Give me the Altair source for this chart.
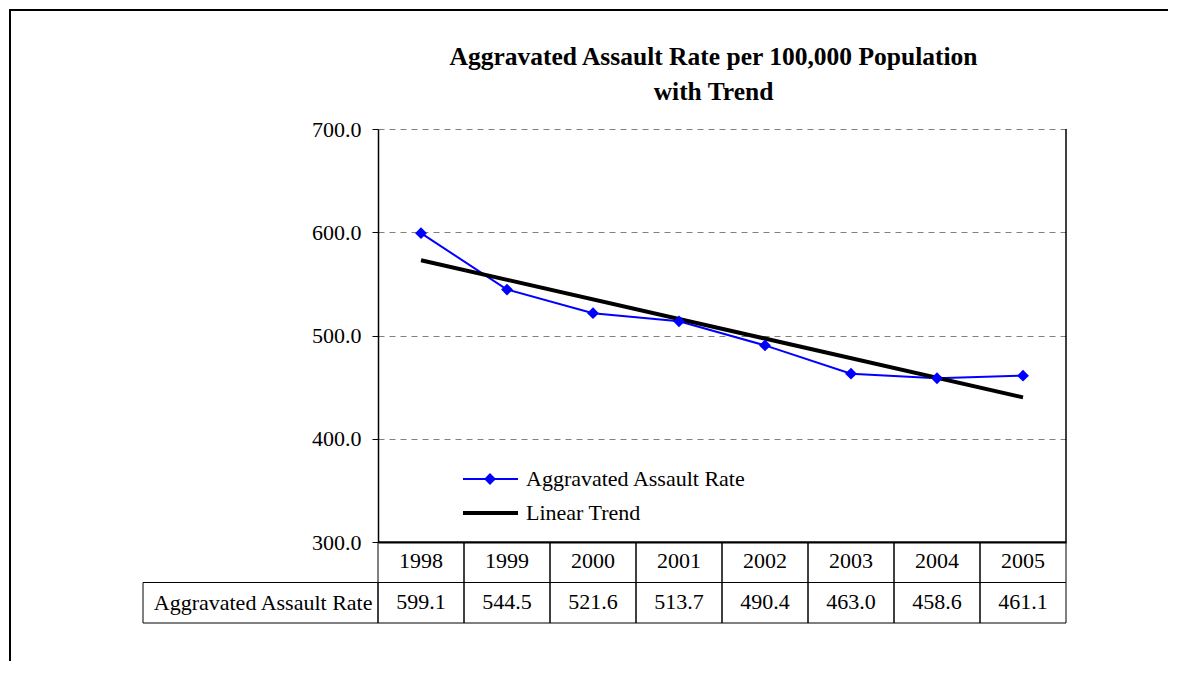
import altair as alt
import pandas as pd

years = [1998, 1999, 2000, 2001, 2002, 2003, 2004, 2005]
rates = [599.1, 544.5, 521.6, 513.7, 490.4, 463.0, 458.6, 461.1]
series_names = ["Aggravated Assault Rate", "Linear Trend"]
series_colors = ["#0000FF", "#000000"]
series_widths = [2, 4]
y_ticks = [300, 400, 500, 600, 700]
title_lines = ["Aggravated Assault Rate per 100,000 Population", "with Trend"]
row_label = "Aggravated Assault Rate"

FONT = "Liberation Serif"
FS = 22


def build():
    df = pd.DataFrame({"Year": years, "Rate": rates})

    xscale = alt.Scale(domain=[years[0] - 0.5, years[-1] + 0.5], nice=False, zero=False)
    yscale = alt.Scale(domain=[y_ticks[0], y_ticks[-1]], nice=False, zero=False)

    legend = alt.Legend(
        title=None,
        orient="none",
        legendX=83,
        legendY=337,
        padding=0,
        symbolSize=3025,
        symbolType="stroke",
        labelFont=FONT,
        labelFontSize=FS,
        labelColor="black",
        labelOffset=6,
        rowPadding=8,
        clipHeight=26,
        labelLimit=0,
    )
    color = alt.Color(
        "series:N",
        scale=alt.Scale(domain=series_names, range=series_colors),
        legend=legend,
    )
    swidth = alt.StrokeWidth(
        "series:N",
        scale=alt.Scale(domain=series_names, range=series_widths),
        legend=legend,
    )

    x_enc = alt.X(
        "Year:Q",
        scale=xscale,
        axis=alt.Axis(title=None, labels=False, ticks=False, grid=False,
                      domainColor="black", domainWidth=2, zindex=1),
    )
    y_enc = alt.Y(
        "Rate:Q",
        scale=yscale,
        axis=alt.Axis(title=None, values=y_ticks, format=".1f", labelFont=FONT,
                      labelFontSize=FS, labelColor="black", tickColor="black",
                      tickSize=6, labelPadding=11, domainColor="black", domainWidth=1.5,
                      gridColor="#808080", gridDash=[6, 5], gridWidth=1),
    )

    base = alt.Chart(df).transform_calculate(
        series="'Aggravated Assault Rate'", series2="'Aggravated Assault Rate'"
    )
    trend_base = (
        alt.Chart(df)
        .transform_regression("Year", "Rate", method="linear", extent=[years[0], years[-1]])
        .transform_calculate(series="'Linear Trend'")
    )
    line = base.mark_line().encode(x=x_enc, y=y_enc, color=color, strokeWidth=swidth)
    trend = trend_base.mark_line().encode(x="Year:Q", y="Rate:Q", color=color, strokeWidth=swidth)
    pts = base.mark_point(filled=True, size=140, opacity=1, color="#0000FF").encode(
        x="Year:Q", y="Rate:Q",
        shape=alt.Shape(
            "series2:N",
            scale=alt.Scale(domain=series_names[:1], range=["diamond"]),
            legend=alt.Legend(title=None, orient="none", legendX=101, legendY=337,
                              padding=0, symbolSize=140, symbolFillColor="#0000FF",
                              symbolStrokeColor="#0000FF", symbolStrokeWidth=0,
                              clipHeight=26, labelExpr="''", labelFontSize=FS,
                              labelFont=FONT),
        ),
    )

    right_border = alt.Chart(pd.DataFrame({"k": [0]})).mark_rule(color="black", strokeWidth=1.5).encode(
        x=alt.datum(years[-1] + 0.5), y=alt.datum(y_ticks[0]), y2=alt.datum(y_ticks[-1])
    )
    frame_df = pd.DataFrame({"k": [0]})
    frame_left = alt.Chart(frame_df).mark_rule(color="black", strokeWidth=2).encode(
        x=alt.value(-368), y=alt.value(-120), y2=alt.value(532)
    )
    frame_top = alt.Chart(frame_df).mark_rule(color="black", strokeWidth=2).encode(
        x=alt.value(-369), x2=alt.value(790), y=alt.value(-119)
    )

    top = alt.layer(frame_left, frame_top, line, trend, pts, right_border).properties(
        width=688,
        height=413,
        title=alt.TitleParams(
            text=title_lines, font=FONT, fontSize=25.5, fontWeight="bold", color="black",
            lineHeight=35, anchor="middle", frame="group", offset=-97, dx=-8.5,
        ),
    )

    rows = ["yr", "val"]
    table_df = pd.DataFrame(
        [{"Year": y, "row": "yr", "label": str(y)} for y in years]
        + [{"Year": y, "row": "val", "label": f"{r:.1f}"} for y, r in zip(years, rates)]
    )
    yrow = alt.Y(
        "row:N",
        scale=alt.Scale(domain=rows, paddingInner=0, paddingOuter=0),
        axis=alt.Axis(title=None, domain=False, ticks=False, grid=False,
                      labelExpr=f"datum.value == 'val' ? '{row_label}' : ''",
                      labelFont=FONT, labelFontSize=FS, labelColor="black",
                      labelPadding=6, labelLimit=0),
    )
    tbase = alt.Chart(table_df).transform_calculate(x0="datum.Year - 0.5", x1="datum.Year + 0.5")
    cells = tbase.mark_rect(fill="white", fillOpacity=0, stroke="black", strokeWidth=1).encode(
        x=alt.X("x0:Q", scale=xscale, axis=None), x2="x1:Q", y=yrow
    )
    texts = tbase.mark_text(font=FONT, fontSize=FS, color="black", baseline="middle", dy=-1).encode(
        x=alt.X("Year:Q", scale=xscale, axis=None), y="row:N", text="label:N"
    )
    label_cell = alt.Chart(pd.DataFrame({"row": ["val"]})).mark_rect(
        fill="white", fillOpacity=0, stroke="black", strokeWidth=1
    ).encode(x=alt.value(-235), x2=alt.value(0), y="row:N")

    bottom = alt.layer(cells, label_cell, texts).properties(width=688, height=81)

    return (
        alt.vconcat(top, bottom, spacing=0, bounds="flush")
        .properties(padding=0, background="white")
        .configure_view(stroke=None)
    )


chart = build()
chart.save("out.html", embed_options={"renderer": "svg", "actions": False})
